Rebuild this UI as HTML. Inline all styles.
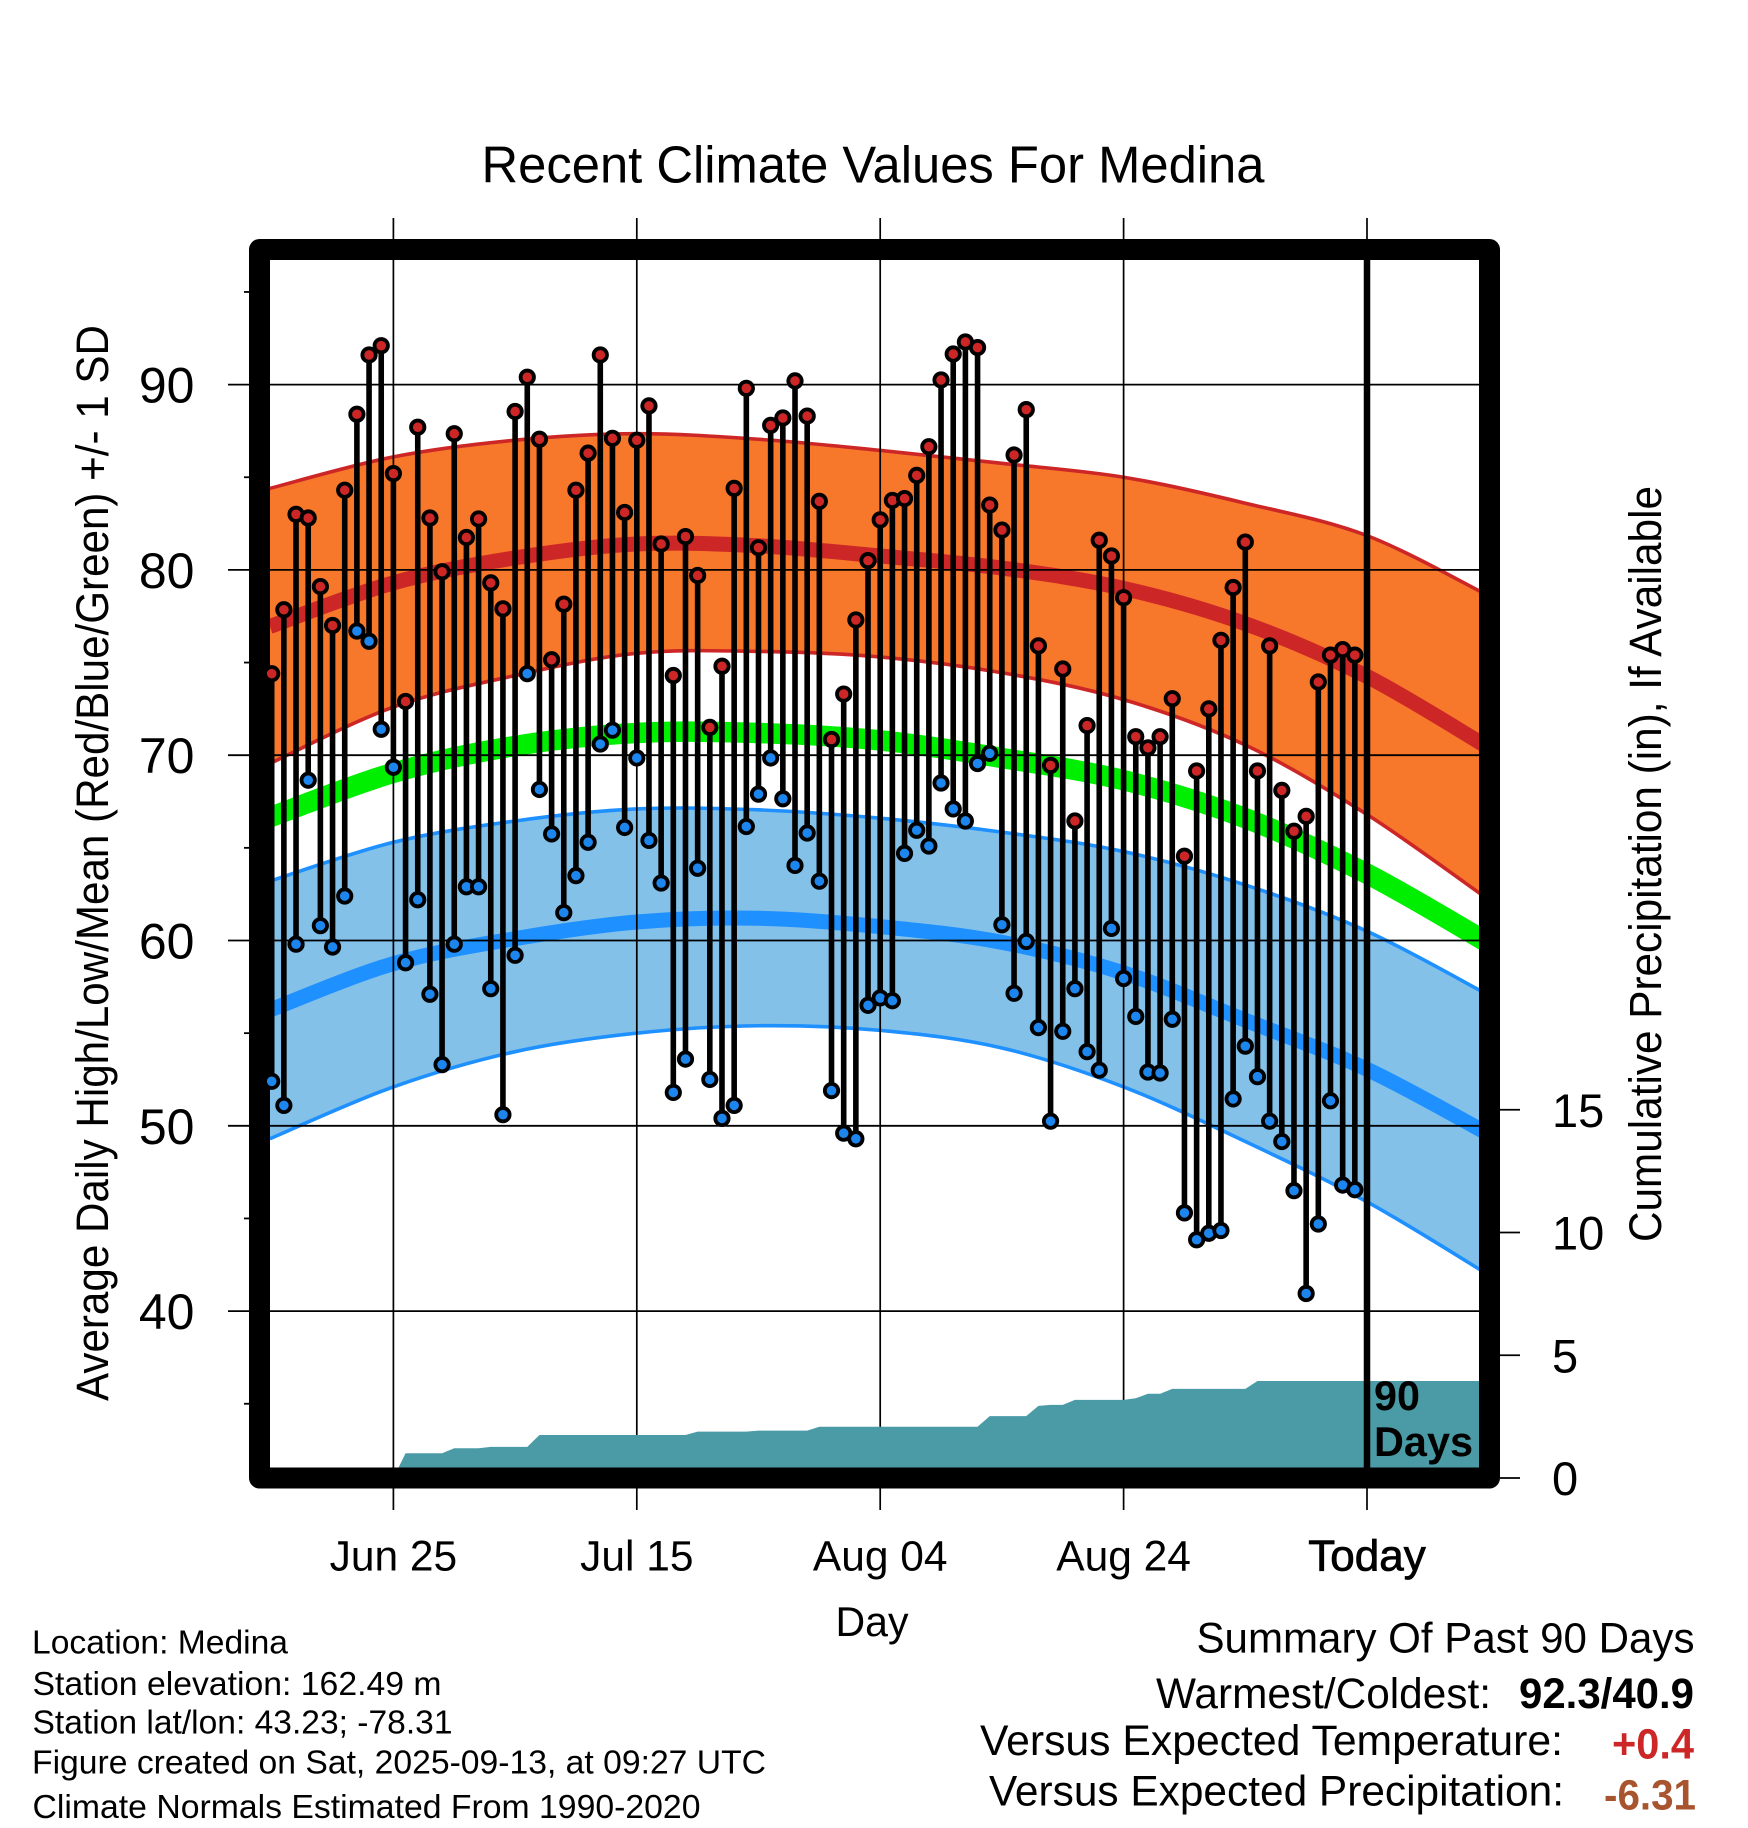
<!DOCTYPE html>
<html lang="en">
<head>
<meta charset="utf-8">
<title>Recent Climate Values For Medina</title>
<style>
html,body{margin:0;padding:0;background:#fff;}
svg{display:block;font-family:"Liberation Sans",Arial,sans-serif;}
</style>
</head>
<body>
<svg id="chart" xmlns="http://www.w3.org/2000/svg" width="1748" height="1828" viewBox="0 0 1748 1828">
<defs><clipPath id="plot-clip"><rect x="270" y="260" width="1209" height="1208"/></clipPath></defs>
<rect x="0" y="0" width="1748" height="1828" fill="#fff"/>
<g id="bands" clip-path="url(#plot-clip)"></g>
<g id="grid"></g>
<g id="precip" clip-path="url(#plot-clip)"></g>
<g id="today"></g>
<rect x="259.5" y="249.5" width="1230" height="1228.5" fill="none" stroke="#000" stroke-width="21" stroke-linejoin="round"/>
<g id="series"></g>
<g id="ticks"></g>

<text x="481.5" y="182.5" font-size="52" textLength="783" lengthAdjust="spacingAndGlyphs">Recent Climate Values For Medina</text>
<text transform="translate(108,1401) rotate(-90)" font-size="45" textLength="1076" lengthAdjust="spacingAndGlyphs">Average Daily High/Low/Mean (Red/Blue/Green) +/- 1 SD</text>
<text transform="translate(1661,1242) rotate(-90)" font-size="45" textLength="756" lengthAdjust="spacingAndGlyphs">Cumulative Precipitation (in), If Available</text>
<text x="872" y="1636" font-size="42" text-anchor="middle" textLength="73" lengthAdjust="spacingAndGlyphs">Day</text>
<text x="1374" y="1410" font-size="42" font-weight="bold" textLength="46" lengthAdjust="spacingAndGlyphs">90</text>
<text x="1374" y="1456" font-size="42" font-weight="bold" textLength="99" lengthAdjust="spacingAndGlyphs">Days</text>

<g font-size="33">
<text x="32" y="1653.5" textLength="256" lengthAdjust="spacingAndGlyphs">Location: Medina</text>
<text x="32.5" y="1695" textLength="409" lengthAdjust="spacingAndGlyphs">Station elevation: 162.49 m</text>
<text x="32.5" y="1733.5" textLength="420" lengthAdjust="spacingAndGlyphs">Station lat/lon: 43.23; -78.31</text>
<text x="32" y="1773.5" textLength="734" lengthAdjust="spacingAndGlyphs">Figure created on Sat, 2025-09-13, at 09:27 UTC</text>
<text x="32.5" y="1818" textLength="668" lengthAdjust="spacingAndGlyphs">Climate Normals Estimated From 1990-2020</text>
</g>

<g font-size="43">
<text x="1196.5" y="1652.5" textLength="498" lengthAdjust="spacingAndGlyphs">Summary Of Past 90 Days</text>
<text x="1156" y="1708" textLength="335" lengthAdjust="spacingAndGlyphs">Warmest/Coldest:</text>
<text x="1519" y="1708" font-weight="bold" textLength="175" lengthAdjust="spacingAndGlyphs">92.3/40.9</text>
<text x="980" y="1755" textLength="583" lengthAdjust="spacingAndGlyphs">Versus Expected Temperature:</text>
<text x="1612" y="1758.5" font-weight="bold" fill="#CD2626" textLength="82" lengthAdjust="spacingAndGlyphs">+0.4</text>
<text x="989" y="1805.5" textLength="575" lengthAdjust="spacingAndGlyphs">Versus Expected Precipitation:</text>
<text x="1604" y="1809.5" font-weight="bold" fill="#A8552F" textLength="92" lengthAdjust="spacingAndGlyphs">-6.31</text>
</g>
</svg>

<script>
// Daily observations (degrees F), oldest first
var dailyHigh = [74.4,77.85,83.0,82.8,79.1,77.0,84.3,88.4,91.6,92.1,85.2,72.9,87.7,82.8,79.9,87.35,81.75,82.75,79.3,77.9,88.55,90.4,87.05,75.15,78.15,84.3,86.3,91.6,87.1,83.1,87.0,88.85,81.4,74.3,81.8,79.7,71.5,74.8,84.4,89.8,81.2,87.8,88.2,90.2,88.3,83.7,70.85,73.3,77.3,80.5,82.7,83.75,83.85,85.1,86.65,90.25,91.65,92.3,92.0,83.5,82.15,86.2,88.65,75.9,69.45,74.65,66.45,71.6,81.6,80.75,78.5,71.0,70.4,71.0,73.05,64.55,69.15,72.5,76.2,79.05,81.5,69.15,75.9,68.1,65.9,66.7,73.95,75.4,75.7,75.4];
var dailyLow = [52.4,51.1,59.8,68.65,60.8,59.65,62.4,76.7,76.15,71.4,69.35,58.8,62.2,57.1,53.3,59.8,62.9,62.9,57.4,50.6,59.2,74.4,68.15,65.75,61.5,63.5,65.3,70.6,71.35,66.1,69.85,65.4,63.1,51.8,53.6,63.9,52.5,50.4,51.1,66.15,67.9,69.85,67.65,64.05,65.8,63.2,51.9,49.6,49.3,56.5,56.9,56.75,64.7,65.95,65.1,68.5,67.1,66.45,69.55,70.1,60.85,57.15,59.95,55.3,50.25,55.1,57.4,54.0,53.0,60.65,57.95,55.9,52.9,52.85,55.75,45.3,43.85,44.2,44.35,51.45,54.3,52.65,50.25,49.15,46.5,40.95,44.7,51.35,46.8,46.55];
// Cumulative precipitation (inches)
var cumulativePrecip = [0,0,0,0,0,0,0,0,0,0,0,1.01,1.01,1.01,1.01,1.21,1.21,1.21,1.27,1.27,1.27,1.27,1.75,1.75,1.75,1.75,1.75,1.75,1.75,1.75,1.75,1.75,1.75,1.75,1.75,1.89,1.89,1.89,1.89,1.89,1.93,1.93,1.93,1.93,1.93,2.09,2.09,2.09,2.09,2.09,2.09,2.09,2.09,2.09,2.09,2.09,2.09,2.09,2.09,2.52,2.52,2.52,2.52,2.94,2.98,2.98,3.18,3.18,3.18,3.18,3.18,3.25,3.43,3.43,3.63,3.63,3.63,3.63,3.63,3.63,3.63,3.95,3.95,3.95,3.95,3.95,3.95,3.95,3.95,3.95];
// Climate normals sampled by day index
var normalDays = [-0.15,10,20,30,40,50,60,70,80,90,100];
var highPlusSD = [84.4,86.1,87.0,87.35,87.05,86.45,85.75,85.0,83.6,81.85,78.6];
var highNormal = [76.95,79.3,80.65,81.4,81.3,80.75,80.1,79.0,77.1,74.25,70.4];
var highMinusSD = [69.55,72.6,74.3,75.5,75.6,75.3,74.45,73.0,70.55,66.8,62.2];
var meanNormal = [66.65,69.05,70.5,71.2,71.2,70.8,69.85,68.65,66.6,63.6,59.85];
var lowPlusSD = [63.2,65.3,66.45,67.1,67.05,66.6,65.85,64.8,63.0,60.5,57.05];
var lowNormal = [56.25,58.75,60.1,61.0,61.2,60.75,59.9,58.25,55.7,53.05,49.55];
var lowMinusSD = [49.3,52.1,54.0,55.0,55.4,55.15,54.2,52.1,49.15,45.9,41.95];
// Axis labels
var tempMajorTicks = [40,50,60,70,80,90];
var tempMinorTicks = [35,45,55,65,75,85,95];
var dateTickDays = [10,30,50,70,90];
var dateTickLabels = ["Jun 25","Jul 15","Aug 04","Aug 24","Today"];
var precipTicks = [0,5,10,15];

var SVGNS = "http://www.w3.org/2000/svg";
function xScale(day){ return 271.7 + 12.17 * day; }
function yTemp(v){ return 384.6 + (90 - v) * 18.53; }
function yPrecip(p){ return 1478 - 24.55 * p; }
function make(tag, parent, attrs){
  var el = document.createElementNS(SVGNS, tag);
  for (var k in attrs) el.setAttribute(k, attrs[k]);
  parent.appendChild(el);
  return el;
}
function curvePoints(values){
  var pts = [];
  for (var i = 0; i < values.length; i++) pts.push([xScale(normalDays[i]), yTemp(values[i])]);
  return pts;
}
function smoothPath(pts, start){
  var d = start ? "M" + pts[0][0].toFixed(2) + " " + pts[0][1].toFixed(2) : "L" + pts[0][0].toFixed(2) + " " + pts[0][1].toFixed(2);
  for (var i = 0; i < pts.length - 1; i++){
    var p0 = pts[Math.max(i - 1, 0)], p1 = pts[i], p2 = pts[i + 1], p3 = pts[Math.min(i + 2, pts.length - 1)];
    var c1x = p1[0] + (p2[0] - p0[0]) / 6, c1y = p1[1] + (p2[1] - p0[1]) / 6;
    var c2x = p2[0] - (p3[0] - p1[0]) / 6, c2y = p2[1] - (p3[1] - p1[1]) / 6;
    d += "C" + c1x.toFixed(2) + " " + c1y.toFixed(2) + " " + c2x.toFixed(2) + " " + c2y.toFixed(2) + " " + p2[0].toFixed(2) + " " + p2[1].toFixed(2);
  }
  return d;
}
function drawBand(parent, upper, lower, fill, name){
  var d = smoothPath(curvePoints(upper), true) + smoothPath(curvePoints(lower).reverse(), false) + "Z";
  var band = make("path", parent, {d: d, fill: fill, stroke: "none"});
  
  
}
function drawCurve(parent, values, color, width, name){
  var line = make("path", parent, {d: smoothPath(curvePoints(values), true), fill: "none", stroke: color, "stroke-width": width});
  
  
}

var bands = document.getElementById("bands");
drawBand(bands, highPlusSD, highMinusSD, "#F7772B", "high-temperature-band");
drawBand(bands, lowPlusSD, lowMinusSD, "#83C1E8", "low-temperature-band");
drawCurve(bands, highPlusSD, "#CD2626", 3.6, "high-plus-sd-line");
drawCurve(bands, highMinusSD, "#CD2626", 3.6, "high-minus-sd-line");
drawCurve(bands, lowPlusSD, "#1E90FF", 3.6, "low-plus-sd-line");
drawCurve(bands, lowMinusSD, "#1E90FF", 3.6, "low-minus-sd-line");
drawCurve(bands, highNormal, "#CD2626", 15, "normal-high-line");
drawCurve(bands, lowNormal, "#1E90FF", 15, "normal-low-line");
drawCurve(bands, meanNormal, "#00EE00", 20.5, "normal-mean-line");

var grid = document.getElementById("grid");
var ticksG = document.getElementById("ticks");
tempMajorTicks.forEach(function(v){
  var line = make("line", grid, {x1: 228, x2: 1479, y1: yTemp(v), y2: yTemp(v), stroke: "#000", "stroke-width": 1.8});
  
  
  var t = make("text", ticksG, {x: 194.5, y: yTemp(v) + 18, "font-size": 50, "text-anchor": "end"});
  t.textContent = v;
  
  
});
tempMinorTicks.forEach(function(v){
  var tick = make("line", grid, {x1: 244, x2: 250, y1: yTemp(v), y2: yTemp(v), stroke: "#000", "stroke-width": 1.8});
  
  
});
dateTickDays.forEach(function(day, i){
  var line = make("line", grid, {x1: xScale(day), x2: xScale(day), y1: 218, y2: 1510, stroke: "#000", "stroke-width": 1.7});
  
  
  var t = make("text", ticksG, {x: xScale(day), y: 1570.5, "font-size": 42.5, "text-anchor": "middle"});
  if (dateTickLabels[i] === "Today") { t.setAttribute("stroke", "#000"); t.setAttribute("stroke-width", "0.8"); t.setAttribute("font-size", "44"); }
  t.textContent = dateTickLabels[i];
  
  
});
precipTicks.forEach(function(p){
  var tick = make("line", ticksG, {x1: 1500, x2: 1520, y1: yPrecip(p), y2: yPrecip(p), stroke: "#000", "stroke-width": 1.8});
  
  
  var t = make("text", ticksG, {x: 1552, y: yPrecip(p) + 17, "font-size": 47});
  t.textContent = p;
  
  
});

// Precipitation area, held flat from the last observation to the frame edge
var precipD = "M" + xScale(0).toFixed(2) + " " + yPrecip(0).toFixed(2);
cumulativePrecip.forEach(function(p, i){ precipD += "L" + xScale(i).toFixed(2) + " " + yPrecip(p).toFixed(2); });
precipD += "L1479 " + yPrecip(cumulativePrecip[cumulativePrecip.length - 1]).toFixed(2) + "L1479 " + yPrecip(0).toFixed(2) + "Z";
var precipArea = make("path", document.getElementById("precip"), {d: precipD, fill: "#4A9BA6"});



var todayLine = make("line", document.getElementById("today"), {x1: xScale(90), x2: xScale(90), y1: 260, y2: 1468, stroke: "#000", "stroke-width": 6.5});



var series = document.getElementById("series");
dailyHigh.forEach(function(h, i){
  var stem = make("line", series, {x1: xScale(i), x2: xScale(i), y1: yTemp(h), y2: yTemp(dailyLow[i]), stroke: "#000", "stroke-width": 5.6});
  
  
});
dailyHigh.forEach(function(h, i){
  var c = make("circle", series, {cx: xScale(i), cy: yTemp(h), r: 6.7, fill: "#CD2626", stroke: "#000", "stroke-width": 3.8});
  
  
});
dailyLow.forEach(function(l, i){
  var c = make("circle", series, {cx: xScale(i), cy: yTemp(l), r: 6.7, fill: "#1C86EE", stroke: "#000", "stroke-width": 3.8});
  
  
});
</script>
</body>
</html>
